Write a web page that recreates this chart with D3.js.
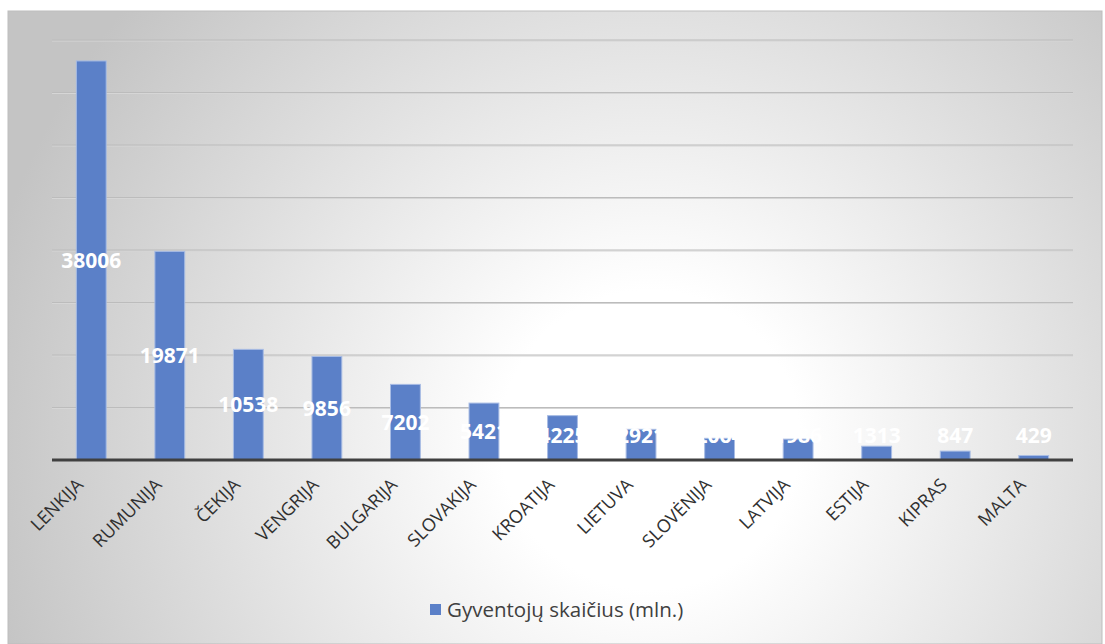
<!DOCTYPE html>
<html>
<head>
<meta charset="utf-8">
<script src="https://cdn.jsdelivr.net/npm/d3@7"></script>
<style>
  html, body { margin: 0; padding: 0; background: #fff; }
  svg { display: block; }
</style>
</head>
<body>
<svg id="chart" width="1105" height="644"></svg>
<script>
// Population by country (thousands)
const countries = ["LENKIJA", "RUMUNIJA", "ČEKIJA", "VENGRIJA", "BULGARIJA", "SLOVAKIJA",
  "KROATIJA", "LIETUVA", "SLOVĖNIJA", "LATVIJA", "ESTIJA", "KIPRAS", "MALTA"];
const population = [38006, 19871, 10538, 9856, 7202, 5421, 4225, 2921, 2064, 1986, 1313, 847, 429];
const yTicks = [0, 5000, 10000, 15000, 20000, 25000, 30000, 35000, 40000];
const seriesName = "Gyventojų skaičius (mln.)";

const svg = d3.select("#chart");
const frame = { left: 8, top: 11, right: 1102, bottom: 644 };
const plot = { left: 52, right: 1073, top: 40, bottom: 460 };

// Chart area background: soft radial highlight fading to grey
const defs = svg.append("defs");
const grad = defs.append("radialGradient")
  .attr("id", "bg")
  .attr("gradientUnits", "userSpaceOnUse")
  .attr("cx", 650).attr("cy", 440).attr("r", 680);
grad.append("stop").attr("offset", 0).attr("stop-color", "#ffffff");
grad.append("stop").attr("offset", 0.22).attr("stop-color", "#ffffff");
grad.append("stop").attr("offset", 1).attr("stop-color", "#c4c4c4");

svg.append("rect")
  .attr("x", frame.left).attr("y", frame.top)
  .attr("width", frame.right - frame.left).attr("height", frame.bottom - frame.top)
  .attr("fill", "url(#bg)")
  .attr("stroke", "#bdbdbd").attr("stroke-width", 1);

const x = d3.scaleBand()
  .domain(countries)
  .range([plot.left, plot.right])
  .paddingInner(0.62).paddingOuter(0.31);

const y = d3.scaleLinear()
  .domain([0, 40000])
  .range([plot.bottom, plot.top]);

// Horizontal gridlines
const grid = svg.append("g");
yTicks.filter(t => t > 0).forEach(t => {
  grid.append("line")
    .attr("x1", plot.left).attr("x2", plot.right)
    .attr("y1", y(t) + 1).attr("y2", y(t) + 1)
    .attr("stroke", "#d6d6d6").attr("stroke-width", 1);
  grid.append("line")
    .attr("x1", plot.left).attr("x2", plot.right)
    .attr("y1", y(t)).attr("y2", y(t))
    .attr("stroke", "#bcbcbc").attr("stroke-width", 1.2);
});

// Bars
svg.append("g").selectAll("rect")
  .data(population)
  .join("rect")
  .attr("x", (d, i) => x(countries[i]))
  .attr("width", x.bandwidth())
  .attr("y", d => y(d))
  .attr("height", d => y(0) - y(d))
  .attr("fill", "#5b80c8")
  .attr("stroke", "#a8bce4")
  .attr("stroke-width", 1);

// Category axis
const xAxis = svg.append("g")
  .attr("transform", `translate(0,${plot.bottom})`)
  .call(d3.axisBottom(x).tickSize(0).tickPadding(0));
xAxis.select(".domain").remove();
xAxis.append("line")
  .attr("x1", plot.left).attr("x2", plot.right)
  .attr("y1", 0).attr("y2", 0)
  .attr("stroke", "#404040").attr("stroke-width", 3);
xAxis.selectAll(".tick text")
  .attr("font-family", "'Open Sans', sans-serif")
  .attr("font-size", 18)
  .attr("fill", "#303030")
  .attr("text-anchor", "end")
  .attr("dy", 0)
  .attr("transform", "translate(-7,26) rotate(-45)");

// Value labels centred in bars, kept clear of the axis
svg.append("g").selectAll("text")
  .data(population)
  .join("text")
  .attr("x", (d, i) => x(countries[i]) + x.bandwidth() / 2)
  .attr("y", d => Math.min((y(d) + y(0)) / 2, y(0) - 25))
  .attr("dy", "0.36em")
  .attr("text-anchor", "middle")
  .attr("font-family", "'Open Sans', sans-serif")
  .attr("font-weight", 700)
  .attr("font-size", 21)
  .attr("fill", "#ffffff")
  .text(d => d);

// Legend
const legend = svg.append("g").attr("transform", "translate(430,610)");
legend.append("rect")
  .attr("x", 0).attr("y", -6).attr("width", 11).attr("height", 11)
  .attr("fill", "#5b80c8");
legend.append("text")
  .attr("x", 17).attr("y", 0).attr("dy", "0.35em")
  .attr("font-family", "'Open Sans', sans-serif")
  .attr("font-size", 20.5)
  .attr("fill", "#404040")
  .text(seriesName);
</script>
</body>
</html>
